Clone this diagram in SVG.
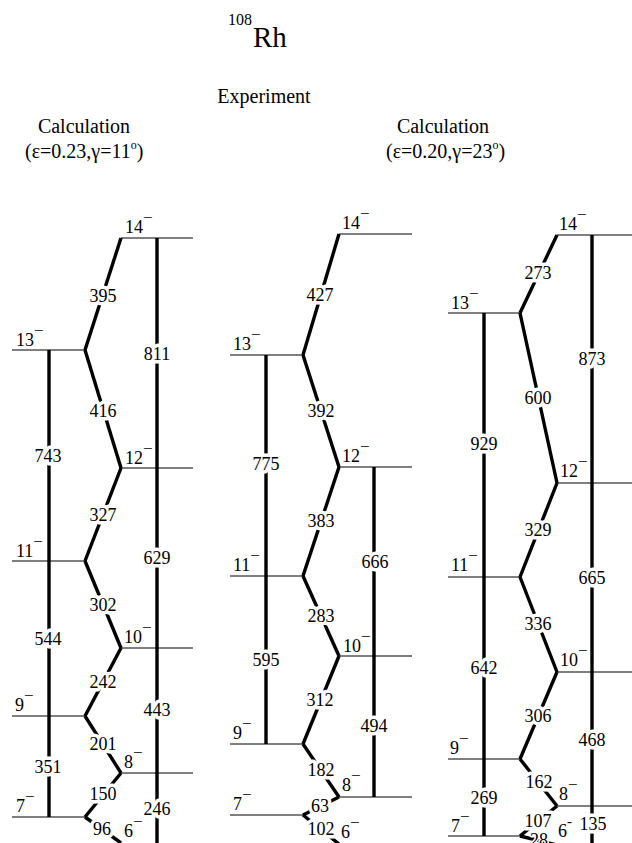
<svg xmlns="http://www.w3.org/2000/svg" width="632" height="843" viewBox="0 0 632 843">
<style>
text { font-family: "Liberation Serif", "Times New Roman", serif; fill: #000; }
.lv { stroke: #000; stroke-width: 1.2; fill: none; }
.tr { stroke: #000; stroke-width: 3.4; fill: none; stroke-linecap: butt; }
.ll { font-size: 18px; }
.tl { font-size: 18px; text-anchor: middle; stroke: #fff; stroke-width: 7; stroke-linejoin: round; paint-order: stroke; }
.hd { font-size: 20px; }
.sm { font-size: 17px; }
</style>
<rect x="0" y="0" width="632" height="843" fill="#fff"/>

<g id="title">
  <text x="228" y="25" style="font-size:16px">108</text>
  <text x="253" y="47" style="font-size:29px">Rh</text>
</g>
<g id="headers">
  <text class="hd" x="264" y="103" text-anchor="middle">Experiment</text>
  <text class="hd" x="84" y="133" text-anchor="middle">Calculation</text>
  <text class="hd" x="25" y="158">(ε=0.23,γ=11<tspan style="font-size:12px" dy="-9">o</tspan><tspan dy="9">)</tspan></text>
  <text class="hd" x="443" y="133" text-anchor="middle">Calculation</text>
  <text class="hd" x="386" y="158">(ε=0.20,γ=23<tspan style="font-size:12px" dy="-9">o</tspan><tspan dy="9">)</tspan></text>
</g>

<!-- Left calculation levels -->
<g id="L14"><line class="lv" x1="121" y1="238" x2="193" y2="238"/><text class="ll" x="125" y="233">14<tspan class="sm" dy="-10">−</tspan></text></g>
<g id="L13"><line class="lv" x1="12" y1="350" x2="85" y2="350"/><text class="ll" x="16" y="346">13<tspan class="sm" dy="-10">−</tspan></text></g>
<g id="L12"><line class="lv" x1="121" y1="468" x2="193" y2="468"/><text class="ll" x="125" y="464">12<tspan class="sm" dy="-10">−</tspan></text></g>
<g id="L11"><line class="lv" x1="12" y1="561" x2="85" y2="561"/><text class="ll" x="16" y="557">11<tspan class="sm" dy="-10">−</tspan></text></g>
<g id="L10"><line class="lv" x1="121" y1="648" x2="193" y2="648"/><text class="ll" x="124" y="643">10<tspan class="sm" dy="-10">−</tspan></text></g>
<g id="L9"><line class="lv" x1="12" y1="716" x2="85" y2="716"/><text class="ll" x="15" y="711">9<tspan class="sm" dy="-10">−</tspan></text></g>
<g id="L8"><line class="lv" x1="121" y1="773" x2="193" y2="773"/><text class="ll" x="124" y="768">8<tspan class="sm" dy="-10">−</tspan></text></g>
<g id="L7"><line class="lv" x1="12" y1="817" x2="85" y2="817"/><text class="ll" x="16" y="812">7<tspan class="sm" dy="-10">−</tspan></text></g>
<g id="L6"><text class="ll" x="124" y="837">6<tspan class="sm" dy="-10">−</tspan></text></g>

<!-- Experiment levels -->
<g id="E14"><line class="lv" x1="339" y1="234" x2="412" y2="234"/><text class="ll" x="342" y="229">14<tspan class="sm" dy="-10">−</tspan></text></g>
<g id="E13"><line class="lv" x1="230" y1="355" x2="303" y2="355"/><text class="ll" x="233" y="350">13<tspan class="sm" dy="-10">−</tspan></text></g>
<g id="E12"><line class="lv" x1="339" y1="467" x2="412" y2="467"/><text class="ll" x="342" y="462">12<tspan class="sm" dy="-10">−</tspan></text></g>
<g id="E11"><line class="lv" x1="230" y1="576" x2="303" y2="576"/><text class="ll" x="233" y="571">11<tspan class="sm" dy="-10">−</tspan></text></g>
<g id="E10"><line class="lv" x1="339" y1="656" x2="412" y2="656"/><text class="ll" x="343" y="652">10<tspan class="sm" dy="-10">−</tspan></text></g>
<g id="E9"><line class="lv" x1="230" y1="744" x2="303" y2="744"/><text class="ll" x="233" y="739">9<tspan class="sm" dy="-10">−</tspan></text></g>
<g id="E8"><line class="lv" x1="339" y1="797" x2="412" y2="797"/><text class="ll" x="342" y="791">8<tspan class="sm" dy="-10">−</tspan></text></g>
<g id="E7"><line class="lv" x1="230" y1="815" x2="303" y2="815"/><text class="ll" x="233" y="810">7<tspan class="sm" dy="-10">−</tspan></text></g>
<g id="E6"><text class="ll" x="341" y="838">6<tspan class="sm" dy="-10">−</tspan></text></g>

<!-- Right calculation levels -->
<g id="R14"><line class="lv" x1="557" y1="235" x2="632" y2="235"/><text class="ll" x="559" y="230">14<tspan class="sm" dy="-10">−</tspan></text></g>
<g id="R13"><line class="lv" x1="448" y1="313" x2="520" y2="313"/><text class="ll" x="451" y="309">13<tspan class="sm" dy="-10">−</tspan></text></g>
<g id="R12"><line class="lv" x1="557" y1="483" x2="632" y2="483"/><text class="ll" x="560" y="477">12<tspan class="sm" dy="-10">−</tspan></text></g>
<g id="R11"><line class="lv" x1="448" y1="577" x2="520" y2="577"/><text class="ll" x="451" y="571">11<tspan class="sm" dy="-10">−</tspan></text></g>
<g id="R10"><line class="lv" x1="557" y1="672" x2="632" y2="672"/><text class="ll" x="560" y="666">10<tspan class="sm" dy="-10">−</tspan></text></g>
<g id="R9"><line class="lv" x1="448" y1="759" x2="520" y2="759"/><text class="ll" x="450" y="754">9<tspan class="sm" dy="-10">−</tspan></text></g>
<g id="R8"><line class="lv" x1="557" y1="806" x2="632" y2="806"/><text class="ll" x="559" y="800">8<tspan class="sm" dy="-10">−</tspan></text></g>
<g id="R7"><line class="lv" x1="448" y1="836" x2="520" y2="836"/><text class="ll" x="451" y="832">7<tspan class="sm" dy="-10">−</tspan></text></g>
<g id="R6"><text class="ll" x="558" y="837">6<tspan style="font-size:15px" dy="-11">-</tspan></text></g>

<g id="connectors">
  <!-- left zigzag -->
  <line class="tr" x1="121" y1="238" x2="85" y2="350"/>
  <line class="tr" x1="85" y1="350" x2="121" y2="468"/>
  <line class="tr" x1="121" y1="468" x2="85" y2="561"/>
  <line class="tr" x1="85" y1="561" x2="121" y2="648"/>
  <line class="tr" x1="121" y1="648" x2="85" y2="716"/>
  <line class="tr" x1="85" y1="716" x2="121" y2="773"/>
  <line class="tr" x1="121" y1="773" x2="85" y2="817"/>
  <line class="tr" x1="85" y1="817" x2="121" y2="843"/>
  <!-- left verticals -->
  <line class="tr" x1="157" y1="238" x2="157" y2="468"/>
  <line class="tr" x1="157" y1="468" x2="157" y2="648"/>
  <line class="tr" x1="157" y1="648" x2="157" y2="773"/>
  <line class="tr" x1="157" y1="773" x2="157" y2="850"/>
  <line class="tr" x1="49" y1="350" x2="49" y2="561"/>
  <line class="tr" x1="49" y1="561" x2="49" y2="716"/>
  <line class="tr" x1="49" y1="716" x2="49" y2="817"/>
  <!-- middle zigzag -->
  <line class="tr" x1="339" y1="234" x2="303" y2="355"/>
  <line class="tr" x1="303" y1="355" x2="339" y2="467"/>
  <line class="tr" x1="339" y1="467" x2="303" y2="576"/>
  <line class="tr" x1="303" y1="576" x2="339" y2="656"/>
  <line class="tr" x1="339" y1="656" x2="303" y2="744"/>
  <line class="tr" x1="303" y1="744" x2="339" y2="797"/>
  <line class="tr" x1="339" y1="797" x2="303" y2="815"/>
  <line class="tr" x1="303" y1="815" x2="339" y2="844"/>
  <!-- middle verticals -->
  <line class="tr" x1="266" y1="355" x2="266" y2="576"/>
  <line class="tr" x1="266" y1="576" x2="266" y2="744"/>
  <line class="tr" x1="374" y1="467" x2="374" y2="656"/>
  <line class="tr" x1="374" y1="656" x2="374" y2="797"/>
  <!-- right zigzag -->
  <line class="tr" x1="557" y1="235" x2="520" y2="313"/>
  <line class="tr" x1="520" y1="313" x2="557" y2="483"/>
  <line class="tr" x1="557" y1="483" x2="520" y2="577"/>
  <line class="tr" x1="520" y1="577" x2="557" y2="672"/>
  <line class="tr" x1="557" y1="672" x2="520" y2="759"/>
  <line class="tr" x1="520" y1="759" x2="557" y2="806"/>
  <line class="tr" x1="557" y1="806" x2="520" y2="836"/>
  <line class="tr" x1="520" y1="836" x2="557" y2="845"/>
  <!-- right verticals -->
  <line class="tr" x1="592" y1="235" x2="592" y2="483"/>
  <line class="tr" x1="592" y1="483" x2="592" y2="672"/>
  <line class="tr" x1="592" y1="672" x2="592" y2="806"/>
  <line class="tr" x1="592" y1="806" x2="592" y2="850"/>
  <line class="tr" x1="484" y1="313" x2="484" y2="577"/>
  <line class="tr" x1="484" y1="577" x2="484" y2="759"/>
  <line class="tr" x1="484" y1="759" x2="484" y2="836"/>

  <!-- labels: left -->
  <text class="tl" x="103" y="302">395</text>
  <text class="tl" x="103" y="417">416</text>
  <text class="tl" x="103" y="521">327</text>
  <text class="tl" x="103" y="611">302</text>
  <text class="tl" x="103" y="688">242</text>
  <text class="tl" x="103" y="750">201</text>
  <text class="tl" x="103" y="800">150</text>
  <text class="tl" x="102" y="835">96</text>
  <text class="tl" x="157" y="360">811</text>
  <text class="tl" x="157" y="564">629</text>
  <text class="tl" x="157" y="716">443</text>
  <text class="tl" x="157" y="815">246</text>
  <text class="tl" x="48" y="462">743</text>
  <text class="tl" x="48" y="645">544</text>
  <text class="tl" x="48" y="773">351</text>
  <!-- labels: middle -->
  <text class="tl" x="320" y="301">427</text>
  <text class="tl" x="321" y="417">392</text>
  <text class="tl" x="321" y="527">383</text>
  <text class="tl" x="321" y="622">283</text>
  <text class="tl" x="320" y="706">312</text>
  <text class="tl" x="321" y="776">182</text>
  <text class="tl" x="320" y="812">63</text>
  <text class="tl" x="321" y="835">102</text>
  <text class="tl" x="266" y="470">775</text>
  <text class="tl" x="266" y="666">595</text>
  <text class="tl" x="375" y="568">666</text>
  <text class="tl" x="374" y="732">494</text>
  <!-- labels: right -->
  <text class="tl" x="538" y="279">273</text>
  <text class="tl" x="538" y="404">600</text>
  <text class="tl" x="538" y="536">329</text>
  <text class="tl" x="538" y="630">336</text>
  <text class="tl" x="538" y="722">306</text>
  <text class="tl" x="539" y="788">162</text>
  <text class="tl" x="539" y="846" style="stroke-width:3">28</text>
  <text class="tl" x="538" y="827">107</text>
  <text class="tl" x="484" y="450">929</text>
  <text class="tl" x="484" y="674">642</text>
  <text class="tl" x="484" y="804">269</text>
  <text class="tl" x="592" y="365">873</text>
  <text class="tl" x="592" y="584">665</text>
  <text class="tl" x="592" y="746">468</text>
  <text class="tl" x="593" y="830">135</text>
</g>
</svg>
